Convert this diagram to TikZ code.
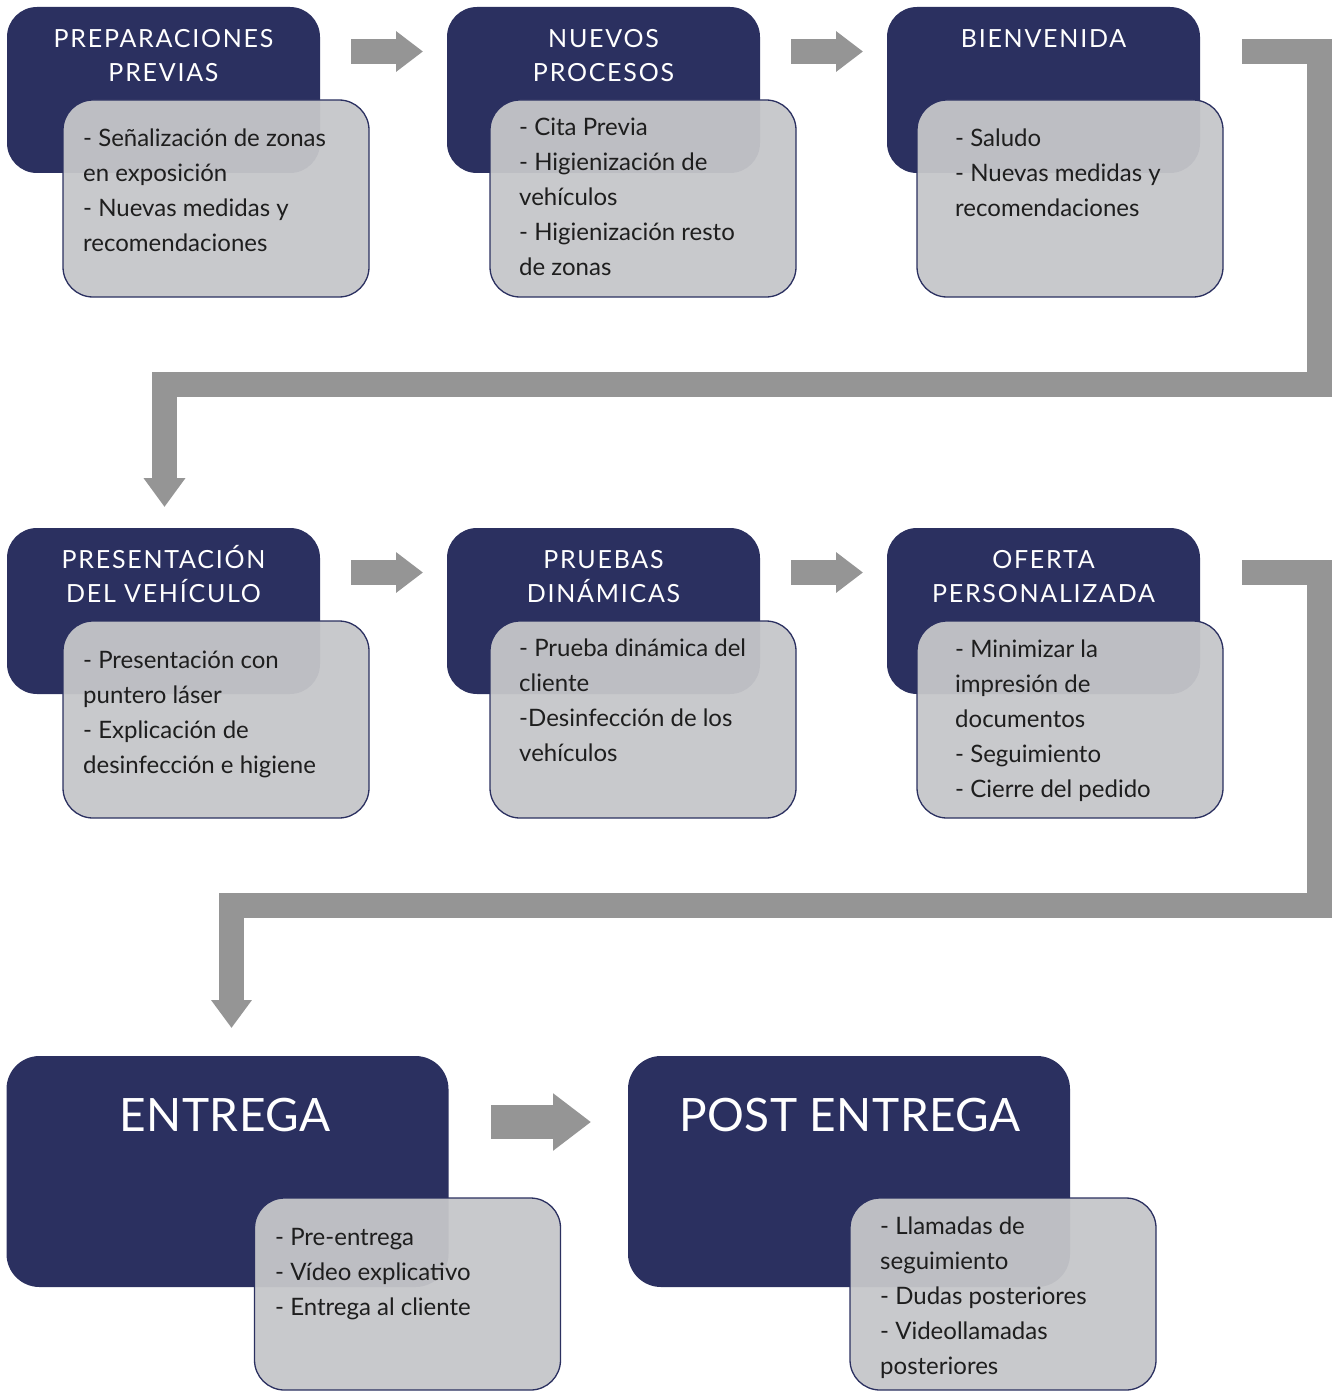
\documentclass[tikz,border=0pt]{standalone}
\usepackage{fontspec}
\setmainfont{Lato}
\newfontfamily\headfont[LetterSpace=7]{Lato}
\newfontfamily\bigfont[LetterSpace=1]{Lato}
\usetikzlibrary{arrows.meta}
\definecolor{navy}{RGB}{43,48,96}
\definecolor{boxgray}{RGB}{197,198,201}
\definecolor{arrowgray}{RGB}{149,149,149}
\definecolor{bodytext}{RGB}{30,30,30}
\begin{document}
\begin{tikzpicture}[x=1pt,y=-1pt,
  darkbox/.style={rectangle, rounded corners=30pt, fill=navy, draw=none, inner sep=0pt, minimum width=313pt, minimum height=166pt},
  bigdark/.style={darkbox, rounded corners=33pt, minimum width=442pt, minimum height=231pt},
  graybox/.style={rectangle, rounded corners=30pt, fill=boxgray, fill opacity=0.95, draw=navy, line width=1.3pt, inner sep=0pt, minimum width=306pt, minimum height=197pt},
  biggray/.style={graybox, minimum height=192pt},
  headtext/.style={text=white, inner sep=0pt, anchor=north, align=center, font=\headfont\fontsize{25}{34.5}\selectfont},
  bigtext/.style={text=white, inner sep=0pt, anchor=base, font=\bigfont\fontsize{46}{60}\selectfont},
  bodytxt/.style={text=bodytext, inner sep=0pt, anchor=north west, align=left, font=\fontsize{24}{35}\selectfont},
  flow/.style={draw=arrowgray, line width=25pt, line join=miter, -{Triangle[length=27pt,width=39pt]}},
  bigflow/.style={draw=arrowgray, line width=34pt, -{Triangle[length=38pt,width=55pt]}}
]
\useasboundingbox (0,0) rectangle (1339,1391);

% ---------- row 1
\node[darkbox] (d1) at (163.5,90) {};
\node[darkbox] (d2) at (603.5,90) {};
\node[darkbox] (d3) at (1043.5,90) {};
\node[headtext] (h1) at (163.5,23) {\strut PREPARACIONES\\PREVIAS};
\node[headtext] (h2) at (603.5,23) {\strut NUEVOS\\PROCESOS};
\node[headtext] (h3) at (1043.5,23) {\strut BIENVENIDA};
\node[graybox] (g1) at (216,198.5) {};
\node[graybox] (g2) at (643,198.5) {};
\node[graybox] (g3) at (1070,198.5) {};
\node[bodytxt] (t1) at (83,122) {\strut - Señalización de zonas\\en exposición\\- Nuevas medidas y\\recomendaciones};
\node[bodytxt] (t2) at (519,111) {\strut - Cita Previa\\- Higienización de\\vehículos\\- Higienización resto\\de zonas};
\node[bodytxt] (t3) at (955,122) {\strut - Saludo\\- Nuevas medidas y\\recomendaciones};

% ---------- row 2
\node[darkbox] (d4) at (163.5,611) {};
\node[darkbox] (d5) at (603.5,611) {};
\node[darkbox] (d6) at (1043.5,611) {};
\node[headtext] (h4) at (163.5,544) {\strut PRESENTACIÓN\\DEL VEHÍCULO};
\node[headtext] (h5) at (603.5,544) {\strut PRUEBAS\\DINÁMICAS};
\node[headtext] (h6) at (1043.5,544) {\strut OFERTA\\PERSONALIZADA};
\node[graybox] (g4) at (216,719.5) {};
\node[graybox] (g5) at (643,719.5) {};
\node[graybox] (g6) at (1070,719.5) {};
\node[bodytxt] (t4) at (83,644) {\strut - Presentación con\\puntero láser\\- Explicación de\\desinfección e higiene};
\node[bodytxt] (t5) at (519,632) {\strut - Prueba dinámica del\\cliente\\-Desinfección de los\\vehículos};
\node[bodytxt] (t6) at (955,633) {\strut - Minimizar la\\impresión de\\documentos\\- Seguimiento\\- Cierre del pedido};

% ---------- row 3
\node[bigdark] (d7) at (227.5,1171.5) {};
\node[bigdark] (d8) at (849,1171.5) {};
\node[bigtext] (h7) at (225,1131) {ENTREGA};
\node[bigtext] (h8) at (850,1131) {POST ENTREGA};
\node[biggray] (g7) at (407.5,1294) {};
\node[biggray] (g8) at (1003,1294) {};
\node[bodytxt] (t7) at (275,1221) {\strut - Pre-entrega\\- Vídeo explicativo\\- Entrega al cliente};
\node[bodytxt] (t8) at (880,1210) {\strut - Llamadas de\\seguimiento\\- Dudas posteriores\\- Videollamadas\\posteriores};

% ---------- connectors
\coordinate (a1s) at (351,51.5);  \coordinate (a1e) at (423,51.5);
\coordinate (a2s) at (791,51.5);  \coordinate (a2e) at (863,51.5);
\coordinate (a4s) at (351,572.5); \coordinate (a4e) at (423,572.5);
\coordinate (a5s) at (791,572.5); \coordinate (a5e) at (863,572.5);
\coordinate (b1s) at (1242,51.5);
\coordinate (b1e) at (164.5,507);
\coordinate (b2s) at (1242,572.5);
\coordinate (b2e) at (231.5,1028);
\coordinate (a7s) at (491,1122);  \coordinate (a7e) at (591,1122);

\draw[flow] (a1s) -- (a1e);
\draw[flow] (a2s) -- (a2e);
\draw[flow] (a4s) -- (a4e);
\draw[flow] (a5s) -- (a5e);
\draw[flow, -{Triangle[length=29pt,width=40pt]}] (b1s) -- (1319.5,51.5) -- (1319.5,384.5) -- (164.5,384.5) -- (b1e);
\draw[flow, -{Triangle[length=28pt,width=39pt]}] (b2s) -- (1319.5,572.5) -- (1319.5,905) -- (231.5,905) -- (b2e);
\draw[bigflow] (a7s) -- (a7e);
\end{tikzpicture}
\end{document}
